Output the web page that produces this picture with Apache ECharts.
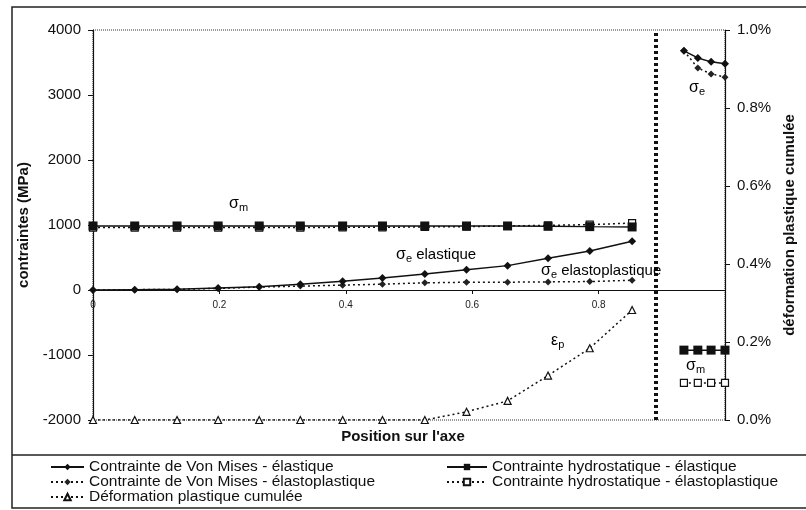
<!DOCTYPE html>
<html><head><meta charset="utf-8">
<script src="https://cdn.jsdelivr.net/npm/echarts@6/dist/echarts.min.js"></script>
<style>html,body{margin:0;padding:0;background:#fff}#c{width:806px;height:510px}</style>
</head><body><div id="c"></div>
<script>
// Positions along the axis
const posLeft = [0, 0.066, 0.133, 0.198, 0.263, 0.328, 0.395, 0.458, 0.525, 0.591, 0.656, 0.72, 0.786, 0.853];
const posRight = [0.935, 0.957, 0.978, 1.0];
const gapPos = 0.89;
// Von Mises stress (MPa)
const vmElasticLeft = [0, 5, 10, 30, 50, 90, 135, 185, 245, 310, 375, 490, 600, 750];
const vmElastoLeft = [0, 5, 10, 25, 45, 60, 75, 90, 110, 120, 120, 125, 130, 150];
const vmElasticRight = [3680, 3570, 3510, 3480];
const vmElastoRight = [3680, 3415, 3325, 3275];
// Hydrostatic stress (MPa)
const hyElasticLeft = [985, 985, 985, 985, 985, 985, 985, 985, 985, 985, 985, 980, 975, 970];
const hyElastoLeft = [960, 960, 960, 960, 960, 960, 965, 965, 970, 975, 985, 995, 1005, 1030];
const hyElasticRight = [-925, -925, -925, -925];
const hyElastoRight = [-1430, -1430, -1430, -1430];
// Cumulated plastic strain (%)
const epsLeft = [0, 0, 0, 0, 0, 0, 0, 0, 0, 0.021, 0.049, 0.114, 0.184, 0.282];
// Axis ticks
const yLeftTicks = {min: -2000, max: 4000, interval: 1000};
const yRightTicks = {min: 0, max: 1.0, interval: 0.2};
const xTicks = {min: 0, max: 1.0, interval: 0.2};
// Legend names
const names = ['Contrainte de Von Mises - élastique', 'Contrainte de Von Mises - élastoplastique',
  'Contrainte hydrostatique - élastique', 'Contrainte hydrostatique - élastoplastique', 'Déformation plastique cumulée'];

function join(left, right) {
  const d = left.map((v, i) => [posLeft[i], v]);
  if (right) {
    d.push([gapPos, '-']);
    right.forEach((v, i) => d.push([posRight[i], v]));
  }
  return d;
}

const FONT = 'Liberation Sans, Arial, sans-serif';
const chart = echarts.init(document.getElementById('c'));
const rich = {
  s: {fontFamily: FONT, fontSize: 16, color: '#111'},
  sub: {fontFamily: FONT, fontSize: 11, color: '#111', verticalAlign: 'bottom', padding: [8, 0, 0, 0]},
  t: {fontFamily: FONT, fontSize: 15, color: '#111'}
};
function ann(x, y, str) {
  return {type: 'text', left: x, top: y, style: {rich: rich, text: str}, z: 50};
}
// legend slots: [name index, icon left, icon width, row center y]
const slots = [[0, 50, 33, 467], [1, 50, 33, 482], [4, 50, 33, 497], [2, 446, 40, 467], [3, 446, 40, 482]];
const legends = slots.map(s => ({
  left: s[1], top: s[3] - 8, itemWidth: s[2], itemHeight: 8, itemGap: 0, padding: 0,
  textStyle: {fontFamily: FONT, fontSize: 15.5, color: '#111', lineHeight: 16},
  data: [names[s[0]]]
}));

chart.setOption({
  animation: false,
  backgroundColor: '#fff',
  grid: {left: 93, right: 81, top: 30, bottom: 90, show: true, borderColor: '#333', borderWidth: 1, borderType: 'dotted'},
  xAxis: {
    type: 'value', min: xTicks.min, max: xTicks.max, interval: xTicks.interval,
    position: 'bottom', offset: -130,
    axisLine: {onZero: false, lineStyle: {color: '#111', width: 1}},
    axisTick: {show: true, length: 4, lineStyle: {color: '#111'}},
    splitLine: {show: false},
    axisLabel: {fontFamily: FONT, fontSize: 10, color: '#222', margin: 10,
      formatter: v => (v >= 0.999 ? '' : (v === 0 ? '0' : v.toFixed(1)))}
  },
  yAxis: [{
    type: 'value', position: 'left', min: yLeftTicks.min, max: yLeftTicks.max, interval: yLeftTicks.interval,
    axisLine: {show: true, lineStyle: {color: '#111', width: 1.2}},
    axisTick: {show: true, length: 5, lineStyle: {color: '#111'}},
    splitLine: {show: false},
    axisLabel: {fontFamily: FONT, fontSize: 15, color: '#111', margin: 12, formatter: v => String(v)},
    name: 'contraintes (MPa)', nameLocation: 'middle', nameRotate: 90, nameGap: 52,
    nameTextStyle: {fontFamily: FONT, fontSize: 15, fontWeight: 'bold', color: '#111'}
  }, {
    type: 'value', position: 'right', min: yRightTicks.min, max: yRightTicks.max, interval: yRightTicks.interval,
    axisLine: {show: true, lineStyle: {color: '#111', width: 1.2}},
    axisTick: {show: true, length: 5, inside: false, lineStyle: {color: '#111'}},
    splitLine: {show: false},
    axisLabel: {fontFamily: FONT, fontSize: 15, color: '#111', margin: 12, formatter: v => v.toFixed(1) + '%'},
    name: 'déformation plastique cumulée', nameLocation: 'middle', nameRotate: 90, nameGap: 52,
    nameTextStyle: {fontFamily: FONT, fontSize: 15, fontWeight: 'bold', color: '#111'}
  }],
  legend: legends,
  series: [{
    name: names[0], type: 'line', data: join(vmElasticLeft, vmElasticRight),
    symbol: 'diamond', symbolSize: 8, itemStyle: {color: '#111'}, lineStyle: {color: '#111', width: 1.5}, z: 5,
    markLine: {silent: true, symbol: 'none', label: {show: false},
      lineStyle: {color: '#111', type: [3, 3], width: 4}, data: [{xAxis: gapPos}]}
  }, {
    name: names[1], type: 'line', data: join(vmElastoLeft, vmElastoRight),
    symbol: 'diamond', symbolSize: 7, itemStyle: {color: '#222'}, lineStyle: {color: '#111', width: 1.5, type: [2, 3]}, z: 4
  }, {
    name: names[2], type: 'line', data: join(hyElasticLeft, hyElasticRight),
    symbol: 'rect', symbolSize: 9, itemStyle: {color: '#111'}, lineStyle: {color: '#111', width: 1.5}, z: 5
  }, {
    name: names[3], type: 'line', data: join(hyElastoLeft, hyElastoRight),
    symbol: 'rect', symbolSize: 7, itemStyle: {color: '#fff', borderColor: '#111', borderWidth: 1.2},
    lineStyle: {color: '#111', width: 1.5, type: [2, 3]}, z: 4
  }, {
    name: names[4], type: 'line', yAxisIndex: 1, data: join(epsLeft, null),
    symbol: 'triangle', symbolSize: 7, itemStyle: {color: '#fff', borderColor: '#111', borderWidth: 1.2},
    lineStyle: {color: '#111', width: 1.5, type: [2, 3]}, z: 4
  }],
  graphic: [
    {type: 'rect', shape: {x: 12, y: 7, width: 800, height: 501}, style: {fill: 'none', stroke: '#222', lineWidth: 1.5}, silent: true},
    {type: 'line', shape: {x1: 12, y1: 455, x2: 806, y2: 455}, style: {stroke: '#222', lineWidth: 1.5}, silent: true},
    {type: 'text', left: 'center', top: 429, style: {text: "Position sur l'axe", fontFamily: FONT, fontSize: 15, fontWeight: 'bold', fill: '#111'}},
    ann(229, 196, '{s|σ}{sub|m}'),
    ann(396, 247, '{s|σ}{sub|e}{t| elastique}'),
    ann(541, 263, '{s|σ}{sub|e}{t| elastoplastique}'),
    ann(551, 333, '{s|ε}{sub|p}'),
    ann(689, 80, '{s|σ}{sub|e}'),
    ann(686, 358, '{s|σ}{sub|m}')
  ]
});
</script></body></html>
